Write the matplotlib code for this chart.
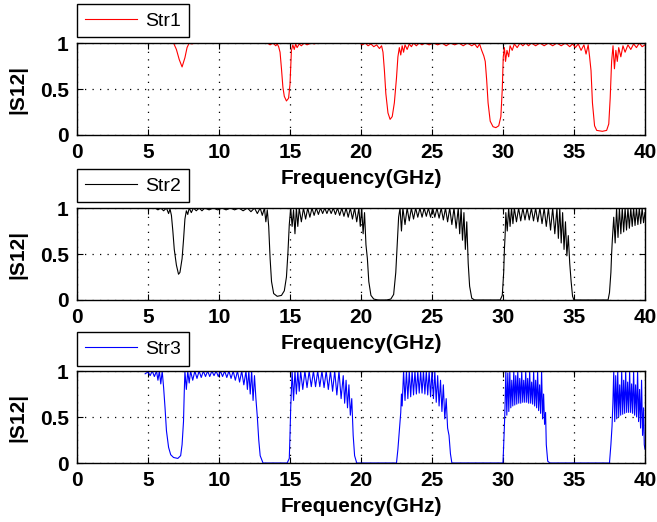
import matplotlib
matplotlib.use("Agg")
import matplotlib.pyplot as plt

# |S12|, frequency in GHz
f_str1 = [0, 6.8, 7.0, 7.2, 7.4, 7.6, 7.75, 7.9, 8.1, 8.3,
          13.4, 13.6, 13.8, 14.0, 14.1, 14.2, 14.3, 14.4, 14.5, 14.6, 14.75, 14.9, 15.0, 15.05, 15.1,
          15.2, 15.3, 15.4, 15.5, 15.65, 15.8, 16.0, 16.2, 16.5, 16.7, 16.9,
          19.9, 20.1, 20.3, 20.5, 20.7, 20.9, 21.1, 21.3, 21.45, 21.55, 21.65, 21.75, 21.9, 22.05,
          22.2, 22.35, 22.5, 22.6, 22.7, 22.8, 22.9, 23.0, 23.1, 23.25, 23.4, 23.55, 23.7, 23.9,
          24.1, 24.3, 24.5, 24.8, 25.1, 25.4, 25.7, 26.0, 26.3, 26.6, 26.9, 27.2, 27.5, 27.8,
          28.0, 28.2, 28.35, 28.5, 28.65, 28.75, 28.85, 28.95, 29.1, 29.3, 29.5, 29.7, 29.85,
          29.95, 30.02, 30.1, 30.18, 30.28, 30.4, 30.5, 30.65, 30.8, 31.0, 31.2, 31.4, 31.6,
          31.8, 32.0, 32.3, 32.6, 32.9, 33.2, 33.5, 33.8, 34.1, 34.4, 34.7, 34.9, 35.1, 35.3,
          35.5, 35.7, 35.85, 36.0, 36.1, 36.2, 36.3, 36.45, 36.6, 37.0, 37.3, 37.45, 37.55,
          37.65, 37.75, 37.85, 37.95, 38.05, 38.15, 38.3, 38.45, 38.6, 38.8, 39.0, 39.2, 39.4,
          39.6, 39.8, 40.0]
s_str1 = [1.0, 1.0, 0.93, 0.82, 0.74, 0.84, 0.95, 1.0, 0.99, 1.0,
          1.0, 0.98, 1.0, 0.97, 0.99, 0.96, 0.9, 0.72, 0.52, 0.42, 0.37, 0.4, 0.55, 0.75, 0.92,
          0.98, 0.93, 0.99, 0.95, 0.99, 0.97, 1.0, 0.98, 1.0, 0.99, 1.0,
          1.0, 0.98, 1.0, 0.97, 0.99, 0.96, 0.98, 0.94, 0.97, 0.9, 0.7, 0.45, 0.24, 0.17,
          0.2, 0.35, 0.62, 0.85, 0.95, 0.87, 0.97, 0.9, 0.98, 0.93, 0.99, 0.96, 1.0, 0.97,
          1.0, 0.98, 1.0, 0.98, 1.0, 0.98, 1.0, 0.97, 1.0, 0.98, 1.0, 0.97, 1.0, 0.97,
          0.99, 0.95, 0.99, 0.92, 0.86, 0.8, 0.6, 0.35, 0.15, 0.09, 0.08, 0.1, 0.2,
          0.5, 0.85, 0.95, 0.8, 0.92, 0.85, 0.97, 0.92, 0.99, 0.95, 1.0, 0.97, 1.0,
          0.97, 1.0, 0.97, 1.0, 0.97, 1.0, 0.97, 1.0, 0.97, 1.0, 0.96, 0.99, 0.95, 0.99,
          0.92, 0.98, 0.88, 0.98, 0.85, 0.7, 0.35, 0.1, 0.05, 0.04, 0.05, 0.12, 0.4,
          0.8, 0.97, 0.72, 0.92, 0.8, 0.95, 0.85, 0.97, 0.9, 0.98, 0.93, 0.99, 0.95,
          1.0, 0.96, 0.98]

f_str2 = [0, 5.5, 5.7, 5.9, 6.1, 6.3, 6.45, 6.55, 6.65, 6.75, 6.85, 7.0, 7.15, 7.25, 7.4, 7.5,
          7.6, 7.7, 7.8, 7.9, 8.05, 8.2, 8.4, 8.6, 8.8, 9.0, 9.3, 9.6, 9.9, 10.2, 10.5, 10.8,
          11.1, 11.4, 11.7, 12.0, 12.25, 12.5, 12.7, 12.9, 13.05, 13.2, 13.3, 13.4, 13.5, 13.6,
          13.7, 13.85, 14.1, 14.4, 14.6, 14.75, 14.85, 14.95, 15.05, 15.15, 15.25, 15.35, 15.45,
          15.55, 15.65, 15.8, 15.95, 16.1, 16.25, 16.4, 16.55, 16.7, 16.85, 17.0, 17.15, 17.3,
          17.45, 17.6, 17.75, 17.9, 18.05, 18.2, 18.35, 18.5, 18.65, 18.8, 18.95, 19.1, 19.25,
          19.4, 19.55, 19.7, 19.85, 19.95, 20.05, 20.15, 20.25, 20.35, 20.45, 20.55, 20.7, 20.9,
          21.2, 21.8, 22.1, 22.3, 22.45, 22.55, 22.65, 22.75, 22.85, 22.95, 23.1, 23.25, 23.4,
          23.55, 23.7, 23.85, 24.0, 24.15, 24.3, 24.45, 24.6, 24.75, 24.9, 25.05, 25.2, 25.35,
          25.5, 25.65, 25.8, 25.95, 26.1, 26.25, 26.4, 26.55, 26.7, 26.85, 26.95, 27.05, 27.15,
          27.25, 27.35, 27.45, 27.55, 27.65, 27.8, 28.0, 29.8, 29.95, 30.05, 30.1, 30.15, 30.2,
          30.3, 30.4, 30.5, 30.6, 30.7, 30.8, 30.95, 31.1, 31.25, 31.4, 31.55, 31.7, 31.85, 32.0,
          32.15, 32.3, 32.45, 32.6, 32.75, 32.9, 33.05, 33.2, 33.35, 33.5, 33.65, 33.8, 33.9,
          34.0, 34.1, 34.2, 34.3, 34.4, 34.5, 34.6, 34.7, 34.8, 34.9, 35.0, 37.4, 37.5, 37.6,
          37.65, 37.7, 37.8, 37.9, 38.0, 38.1, 38.2, 38.3, 38.4, 38.5, 38.6, 38.7, 38.8, 38.9,
          39.0, 39.1, 39.2, 39.3, 39.4, 39.5, 39.6, 39.7, 39.8, 39.9, 40.0]
s_str2 = [1.0, 1.0, 0.98, 1.0, 0.97, 1.0, 0.94, 0.99, 0.92, 0.75, 0.55, 0.38, 0.28, 0.3, 0.45, 0.65,
          0.88, 0.97, 0.93, 1.0, 0.95, 1.0, 0.97, 1.0, 0.97, 1.0, 0.98, 1.0, 0.98, 1.0, 0.98, 1.0,
          0.98, 1.0, 0.97, 1.0, 0.96, 1.0, 0.94, 1.0, 0.92, 1.0, 0.85, 0.98, 0.8, 0.45,
          0.2, 0.07, 0.04, 0.05, 0.1, 0.25, 0.5, 0.82, 1.0, 0.8, 0.98, 0.72, 1.0,
          0.8, 1.0, 0.85, 1.0, 0.88, 1.0, 0.9, 1.0, 0.92, 1.0, 0.93, 1.0, 0.94,
          1.0, 0.94, 1.0, 0.94, 1.0, 0.93, 1.0, 0.92, 1.0, 0.91, 1.0, 0.9, 1.0,
          0.88, 1.0, 0.85, 1.0, 0.8, 1.0, 0.72, 0.95, 0.6, 0.45, 0.2, 0.05, 0.01,
          0.0, 0.0, 0.01, 0.06, 0.3, 0.6, 0.9, 1.0, 0.75, 1.0, 0.82, 1.0, 0.86,
          1.0, 0.88, 1.0, 0.9, 1.0, 0.9, 1.0, 0.91, 1.0, 0.9, 1.0, 0.9, 1.0,
          0.89, 1.0, 0.87, 1.0, 0.85, 1.0, 0.82, 1.0, 0.78, 1.0, 0.72, 1.0, 0.65,
          0.95, 0.55, 0.85, 0.4, 0.15, 0.02, 0.0, 0.0, 0.05, 0.3, 0.55, 0.7, 0.95,
          0.75, 1.0, 0.8, 1.0, 0.83, 1.0, 0.85, 1.0, 0.86, 1.0, 0.87, 1.0, 0.87, 1.0,
          0.86, 1.0, 0.85, 1.0, 0.83, 1.0, 0.8, 1.0, 0.76, 1.0, 0.72, 1.0, 0.67,
          1.0, 0.62, 0.95, 0.55, 0.85, 0.48, 0.7, 0.4, 0.2, 0.04, 0.0, 0.0, 0.08, 0.3,
          0.5, 0.65, 0.9, 0.62, 1.0, 0.68, 1.0, 0.72, 1.0, 0.74, 1.0, 0.76, 1.0, 0.78,
          1.0, 0.8, 1.0, 0.81, 1.0, 0.82, 1.0, 0.83, 1.0, 0.84, 0.95]

f_str3 = [4.8, 5.0, 5.15, 5.3, 5.45, 5.6, 5.7, 5.8, 5.9, 6.0, 6.1, 6.2, 6.3, 6.45, 6.6, 6.8, 7.1,
          7.3, 7.4, 7.5, 7.55, 7.6, 7.7, 7.8, 7.9, 8.0, 8.15, 8.3, 8.45, 8.6, 8.75, 8.9, 9.05,
          9.2, 9.35, 9.5, 9.65, 9.8, 9.95, 10.1, 10.25, 10.4, 10.55, 10.7, 10.85, 11.0, 11.15,
          11.3, 11.45, 11.6, 11.75, 11.9, 12.0, 12.1, 12.2, 12.3, 12.4, 12.5, 12.6, 12.7, 12.8,
          12.9, 13.1, 14.8, 14.95, 15.0, 15.05, 15.1, 15.15, 15.25, 15.35, 15.45, 15.55, 15.65,
          15.75, 15.9, 16.05, 16.2, 16.35, 16.5, 16.65, 16.8, 16.95, 17.1, 17.25, 17.4, 17.55,
          17.7, 17.85, 18.0, 18.15, 18.3, 18.45, 18.6, 18.75, 18.85, 18.95, 19.05, 19.15, 19.25,
          19.35, 19.45, 19.55, 19.7, 22.5, 22.6, 22.7, 22.8, 22.85, 22.9, 23.0, 23.1, 23.2, 23.3,
          23.4, 23.5, 23.6, 23.7, 23.8, 23.9, 24.0, 24.1, 24.2, 24.3, 24.4, 24.5, 24.6, 24.7,
          24.8, 24.9, 25.0, 25.1, 25.2, 25.3, 25.4, 25.5, 25.6, 25.7, 25.8, 25.9, 26.0, 26.1,
          26.2, 26.3, 26.4, 30.0, 30.05, 30.1, 30.15, 30.2, 30.27, 30.34, 30.41, 30.48, 30.55,
          30.62, 30.69, 30.76, 30.83, 30.9, 30.97, 31.04, 31.11, 31.18, 31.25, 31.32, 31.39,
          31.46, 31.53, 31.6, 31.67, 31.74, 31.81, 31.88, 31.95, 32.02, 32.09, 32.16, 32.23,
          32.3, 32.37, 32.44, 32.51, 32.58, 32.65, 32.72, 32.79, 32.86, 32.93, 33.0, 33.05,
          33.15, 33.3, 37.5, 37.6, 37.68, 37.74, 37.8, 37.87, 37.94, 38.01, 38.08, 38.15, 38.22,
          38.29, 38.36, 38.43, 38.5, 38.57, 38.64, 38.71, 38.78, 38.85, 38.92, 38.99, 39.06,
          39.13, 39.2, 39.27, 39.34, 39.41, 39.48, 39.55, 39.62, 39.69, 39.76, 39.83, 39.9,
          39.95, 40.0]
s_str3 = [0.97, 0.99, 0.95, 1.0, 0.94, 1.0, 0.9, 1.0, 0.86, 1.0, 0.82, 0.6, 0.35, 0.17, 0.09, 0.06, 0.05,
          0.08, 0.2, 0.45, 0.75, 1.0, 0.8, 1.0, 0.87, 1.0, 0.9, 1.0, 0.92, 1.0, 0.93, 1.0, 0.94,
          1.0, 0.94, 1.0, 0.95, 1.0, 0.94, 1.0, 0.94, 1.0, 0.93, 1.0, 0.92, 1.0, 0.9,
          1.0, 0.88, 1.0, 0.85, 1.0, 0.8, 1.0, 0.75, 1.0, 0.68, 0.95, 0.7, 0.5, 0.25,
          0.08, 0.0, 0.0, 0.05, 0.3, 0.6, 0.8, 1.0, 0.68, 1.0, 0.75, 1.0, 0.78,
          1.0, 0.8, 1.0, 0.82, 1.0, 0.83, 1.0, 0.83, 1.0, 0.83, 1.0, 0.82, 1.0,
          0.8, 1.0, 0.78, 1.0, 0.74, 1.0, 0.7, 0.95, 0.65, 0.9, 0.6, 0.85, 0.52,
          0.7, 0.3, 0.08, 0.0, 0.0, 0.15, 0.35, 0.55, 0.75, 0.62, 1.0, 0.68, 1.0, 0.7,
          1.0, 0.72, 1.0, 0.74, 1.0, 0.75, 1.0, 0.76, 1.0, 0.76, 1.0, 0.75, 1.0, 0.74,
          1.0, 0.72, 1.0, 0.7, 1.0, 0.66, 0.95, 0.62, 0.9, 0.56, 0.85, 0.48, 0.7, 0.38,
          0.3, 0.1, 0.0, 0.0, 0.2, 0.4, 0.65, 1.0, 0.52, 0.98, 0.56, 1.0, 0.6,
          0.9, 0.62, 1.0, 0.63, 0.95, 0.64, 1.0, 0.65, 0.92, 0.65, 1.0, 0.66,
          0.9, 0.66, 1.0, 0.66, 0.92, 0.65, 1.0, 0.65, 0.88, 0.64, 1.0, 0.62,
          0.9, 0.6, 1.0, 0.57, 0.85, 0.54, 1.0, 0.48, 0.75, 0.42, 0.55, 0.2,
          0.02, 0.0, 0.0, 0.2, 0.4, 0.65, 1.0, 0.45, 0.95, 0.48, 1.0, 0.5, 0.85,
          0.52, 1.0, 0.53, 0.9, 0.54, 1.0, 0.55, 0.88, 0.55, 1.0, 0.55, 0.86,
          0.54, 1.0, 0.52, 0.85, 0.5, 1.0, 0.45, 0.8, 0.38, 0.9, 0.3, 0.6,
          0.2, 0.15]

traces = [(f_str1, s_str1, "r", "Str1"),
          (f_str2, s_str2, "k", "Str2"),
          (f_str3, s_str3, "b", "Str3")]

plt.rcParams["font.family"] = ["Liberation Sans", "DejaVu Sans"]

fig = plt.figure(figsize=(6.57, 5.22), dpi=100)
bottoms = [0.7414, 0.4253, 0.1130]

for (f, s, col, name), b in zip(traces, bottoms):
    ax = fig.add_axes([0.1172, b, 0.8645, 0.1762])
    ax.plot(f, s, color=col, lw=0.8, label=name)
    ax.set_xlim(0, 40)
    ax.set_ylim(0, 1)
    ax.set_xticks(range(0, 41, 5))
    ax.set_yticks([0, 0.5, 1])
    ax.set_yticklabels(["0", "0.5", "1"])
    ax.grid(True, color="k", linestyle=(0, (1, 5)), linewidth=0.9)
    ax.tick_params(direction="in", top=True, right=True, labelsize=15, length=4)
    ax.tick_params(axis="x", pad=6)
    ax.tick_params(axis="y", pad=6)
    for lab in ax.get_xticklabels() + ax.get_yticklabels():
        lab.set_fontweight("bold")
    for sp in ax.spines.values():
        sp.set_linewidth(1.0)
    ax.set_xlabel("Frequency(GHz)", fontsize=15, fontweight="bold", labelpad=5)
    ax.set_ylabel("|S12|", fontsize=15, fontweight="bold")
    ax.yaxis.set_label_coords(-0.088, 0.5)
    leg = ax.legend(loc="lower left", bbox_to_anchor=(0, 1.06), borderaxespad=0,
                    fontsize=14, handlelength=2.7, fancybox=False, framealpha=1,
                    borderpad=0.4, handletextpad=0.4)
    leg.get_frame().set_edgecolor("k")
    leg.get_frame().set_linewidth(1.0)

fig.savefig("out.png", dpi=100)
